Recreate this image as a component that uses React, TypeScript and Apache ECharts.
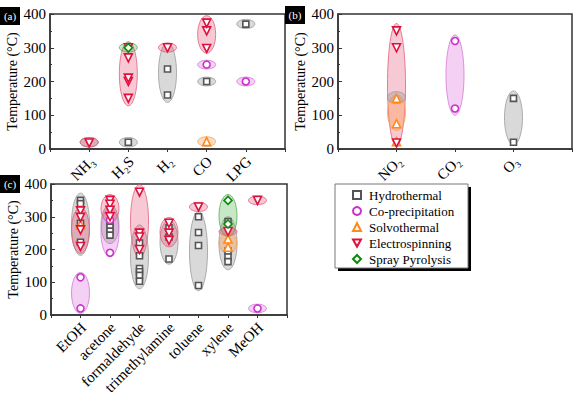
import React, { useEffect, useRef } from 'react';
import * as echarts from 'echarts';

const FONT = '"Liberation Serif", "Times New Roman", serif';

const methods = ['Hydrothermal', 'Co-precipitation', 'Solvothermal', 'Electrospinning', 'Spray Pyrolysis'];
const yTicks = [0, 100, 200, 300, 400];

// Panel (a)
const aCategories = ['', 'NH₃', 'H₂S', 'H₂', 'CO', 'LPG', ''];
const aHydrothermal = [[2, 20], [3, 160], [3, 237], [4, 200], [5, 370]];
const aCoprecipitation = [[4, 250], [5, 200]];
const aSolvothermal = [[4, 22]];
const aElectrospinning = [[1, 18], [2, 150], [2, 200], [2, 210], [2, 270], [2, 300], [3, 300], [4, 298], [4, 350], [4, 373]];
const aSprayPyrolysis = [[2, 300]];
// [category, low, high, method]
const aRanges = [
  [1, 6, 34, 0], [1, 6, 34, 3], [2, 6, 34, 0], [2, 128, 318, 3], [2, 287, 314, 4],
  [3, 138, 314, 0], [3, 287, 314, 3], [4, 284, 395, 3], [4, 237, 263, 1],
  [4, 187, 213, 0], [4, 8, 36, 2], [5, 357, 384, 0], [5, 187, 213, 1],
];

// Panel (b)
const bCategories = ['', 'NO₂', 'CO₂', 'O₃', ''];
const bHydrothermal = [[3, 20], [3, 150]];
const bCoprecipitation = [[2, 120], [2, 320]];
const bSolvothermal = [[1, 22], [1, 75], [1, 150]];
const bElectrospinning = [[1, 18], [1, 300], [1, 350]];
const bSprayPyrolysis: number[][] = [];
const bRanges = [
  [1, 8, 372, 3], [1, 55, 160, 2], [1, 135, 170, 0], [2, 100, 338, 1], [3, 13, 172, 0],
];

// Panel (c)
const cCategories = ['', 'EtOH', 'acetone', 'formaldehyde', 'trimethylamine', 'toluene', 'xylene', 'MeOH', ''];
const cHydrothermal = [
  [1, 350], [1, 340], [1, 280], [1, 222],
  [2, 280], [2, 268], [2, 256], [2, 244],
  [3, 220], [3, 181], [3, 142], [3, 132], [3, 121], [3, 103],
  [4, 266], [4, 238], [4, 171],
  [5, 300], [5, 252], [5, 212], [5, 90],
  [6, 285], [6, 195], [6, 177], [6, 163],
];
const cCoprecipitation = [[1, 115], [1, 20], [2, 290], [2, 190], [7, 20]];
const cSolvothermal = [[1, 276], [6, 232], [6, 207]];
const cElectrospinning = [
  [1, 318], [1, 298], [1, 260], [1, 209],
  [2, 350], [2, 338], [2, 320], [2, 300],
  [3, 375], [3, 250], [3, 238], [3, 200],
  [4, 280], [4, 250], [4, 228],
  [5, 330], [6, 255], [7, 350],
];
const cSprayPyrolysis = [[6, 350], [6, 278]];
const cRanges = [
  [1, 182, 372, 0], [1, 188, 328, 3], [1, 5, 130, 1],
  [2, 218, 335, 0], [2, 178, 327, 1], [2, 282, 368, 3],
  [3, 80, 275, 0], [3, 176, 398, 3],
  [4, 155, 290, 0], [4, 208, 298, 3],
  [5, 74, 316, 0], [5, 316, 344, 3],
  [6, 138, 300, 0], [6, 238, 368, 4], [6, 188, 252, 2], [6, 243, 267, 3],
  [7, 337, 363, 3], [7, 7, 33, 1],
];

const colors = ['#555555', '#cc33cc', '#ff8a1a', '#e0103c', '#0a8a0a'];
const fills = ['rgba(140,140,140,0.33)', 'rgba(220,110,220,0.32)', 'rgba(255,150,60,0.33)', 'rgba(228,60,100,0.28)', 'rgba(70,180,70,0.3)'];
const strokes = ['#9a9a9a', '#d27ad2', '#f5a55a', '#e0607e', '#5aa85a'];
const symbols = ['rect', 'circle', 'triangle', 'triangle', 'diamond'];
const rotates = [0, 0, 0, 180, 0];
const sizes = [6, 7, 8, 8, 8];
const legendIcons = ['rect', 'circle', 'triangle', 'path://M0,0L10,0L5,9Z', 'diamond'];

const panels = [
  { cats: aCategories, pts: [aHydrothermal, aCoprecipitation, aSolvothermal, aElectrospinning, aSprayPyrolysis], ranges: aRanges },
  { cats: bCategories, pts: [bHydrothermal, bCoprecipitation, bSolvothermal, bElectrospinning, bSprayPyrolysis], ranges: bRanges },
  { cats: cCategories, pts: [cHydrothermal, cCoprecipitation, cSolvothermal, cElectrospinning, cSprayPyrolysis], ranges: cRanges },
];

const grids = [
  { left: 50, top: 14, width: 235, height: 135 },
  { left: 338, top: 14, width: 234, height: 135 },
  { left: 51, top: 184, width: 236, height: 131 },
];

function labelBox(x: number, y: number, t: string) {
  return {
    type: 'group', x, y, children: [
      { type: 'rect', shape: { x: 0, y: 0, width: 20, height: 18 }, style: { fill: '#000' } },
      { type: 'text', x: 10, y: 9, style: { text: t, fill: '#fff', font: '11px ' + FONT, align: 'center', verticalAlign: 'middle' } },
    ],
  };
}

export default function App() {
  const ref = useRef<HTMLDivElement>(null);
  useEffect(() => {
    const chart = echarts.init(ref.current!, null, { renderer: 'svg' });
    const xAxis: any[] = [];
    const yAxis: any[] = [];
    const series: any[] = [];
    panels.forEach((p, i) => {
      const cats = p.cats;
      xAxis.push({
        type: 'value', gridIndex: i, min: 0, max: cats.length - 1, interval: 1,
        axisLine: { lineStyle: { color: '#333', width: 1.5 } },
        axisTick: { show: true, length: 3, lineStyle: { color: '#333' } },
        splitLine: { show: false },
        axisLabel: { show: false },
      });
      yAxis.push({
        type: 'value', gridIndex: i, min: 0, max: 400, interval: 100,
        name: 'Temperature (°C)', nameLocation: 'middle', nameGap: 29,
        nameTextStyle: { fontSize: 14, fontFamily: FONT, color: '#000' },
        axisLine: { show: true, lineStyle: { color: '#333', width: 1.5 } },
        axisTick: { show: true, inside: true, length: 4, lineStyle: { color: '#333' } },
        minorTick: { show: true, splitNumber: 2, length: 2, lineStyle: { color: '#333' } },
        splitLine: { show: false },
        axisLabel: {
          margin: 4, color: '#000', fontSize: 15, fontFamily: FONT,
          formatter: (v: number) => (yTicks.indexOf(v) >= 0 ? String(v) : ''),
        },
      });
      // category labels, placed through the axis scale
      series.push({
        type: 'custom', name: 'labels' + i, xAxisIndex: i, yAxisIndex: i, z: 5, clip: false, silent: true,
        data: cats.map((c, k) => [k, 0]).filter((d) => cats[d[0]] !== ''),
        encode: { x: 0, y: 1 },
        renderItem: (params: any, api: any) => {
          const k = api.value(0);
          const pt = api.coord([k, api.value(1)]);
          return {
            type: 'text', x: pt[0] + 3, y: pt[1] + 10, rotation: Math.PI / 4,
            style: { text: cats[k], fill: '#000', font: '15px ' + FONT, align: 'right', verticalAlign: 'middle' },
          };
        },
      });
      series.push({
        type: 'custom', name: 'ranges' + i, xAxisIndex: i, yAxisIndex: i, z: 1,
        data: p.ranges, encode: { x: 0, y: [1, 2] }, silent: true,
        renderItem: (params: any, api: any) => {
          const x = api.value(0), lo = api.value(1), hi = api.value(2), m = api.value(3);
          const p1 = api.coord([x, lo]);
          const p2 = api.coord([x, hi]);
          return {
            type: 'ellipse',
            shape: { cx: p1[0], cy: (p1[1] + p2[1]) / 2, rx: 9, ry: Math.abs(p1[1] - p2[1]) / 2 },
            style: { fill: fills[m], stroke: strokes[m], lineWidth: 0.8 },
          };
        },
      });
      p.pts.forEach((d, m) => {
        if (!d.length) return;
        series.push({
          type: 'scatter', name: methods[m], xAxisIndex: i, yAxisIndex: i, z: 3,
          data: d, symbol: symbols[m], symbolRotate: rotates[m], symbolSize: sizes[m],
          itemStyle: { color: '#fff', borderColor: colors[m], borderWidth: 1.6, opacity: 1 },
        });
      });
    });
    chart.setOption({
      animation: false,
      textStyle: { fontFamily: FONT },
      grid: grids.map((g) => ({ ...g, show: true, borderColor: '#333', borderWidth: 1.5, backgroundColor: 'transparent' })),
      xAxis, yAxis, series,
      legend: {
        left: 335, top: 184, orient: 'vertical',
        itemWidth: 8, itemHeight: 8, itemGap: 0,
        padding: [3, 12, 3, 17],
        selectedMode: false,
        textStyle: { fontSize: 13, fontFamily: FONT, color: '#000', lineHeight: 16, padding: [0, 0, 0, 3] },
        data: methods.map((n, m) => ({
          name: n, icon: legendIcons[m],
          itemStyle: { color: '#fff', borderColor: colors[m], borderWidth: 2 },
        })),
      },
      graphic: [
        { type: 'rect', z: 0, shape: { x: 338, y: 187, width: 133, height: 84 }, style: { fill: '#000' } },
        { type: 'rect', z: 0, shape: { x: 335, y: 184, width: 133, height: 84 }, style: { fill: '#fff', stroke: '#777', lineWidth: 1 } },
        labelBox(0, 7, '(a)'),
        labelBox(285, 6, '(b)'),
        labelBox(0, 175, '(c)'),
      ],
    });
    return () => chart.dispose();
  }, []);
  return <div ref={ref} style={{ position: 'fixed', left: 0, top: 0, width: 575, height: 394, background: '#fff' }} />;
}
